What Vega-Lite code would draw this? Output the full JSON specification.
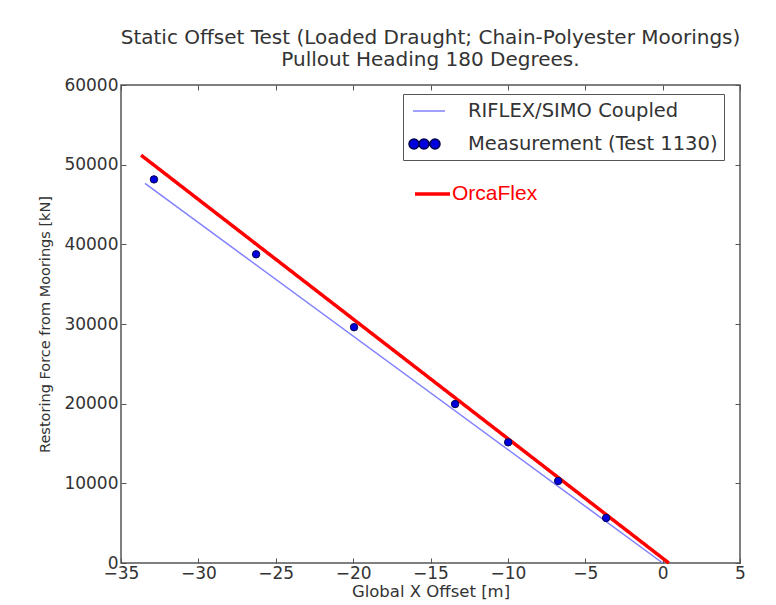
{
  "$schema": "https://vega.github.io/schema/vega-lite/v6.json",
  "width": 619,
  "height": 478,
  "autosize": {"type": "none"},
  "padding": {"left": 121, "top": 85, "right": 36, "bottom": 42},
  "background": "white",
  "title": {
    "text": ["Static Offset Test (Loaded Draught; Chain-Polyester Moorings)", "Pullout Heading 180 Degrees."],
    "anchor": "middle",
    "font": "DejaVu Sans",
    "fontSize": 20,
    "fontWeight": "normal",
    "color": "#333333",
    "lineHeight": 22,
    "offset": 6
  },
  "config": {
    "view": {"stroke": "#555555", "strokeWidth": 1.5},
    "axis": {
      "grid": false,
      "domain": false,
      "tickSize": -5,
      "tickColor": "#555555",
      "tickWidth": 1,
      "labelFont": "DejaVu Sans",
      "labelFontSize": 17,
      "labelColor": "#333333",
      "titleFont": "DejaVu Sans",
      "titleFontWeight": "normal",
      "titleColor": "#333333"
    }
  },
  "layer": [
    {
      "data": {"values": [
        {"offset": -33.45, "force": 47640},
        {"offset": 0.0, "force": 0}
      ]},
      "mark": {"type": "line", "color": "#8080ff", "strokeWidth": 1.5},
      "encoding": {
        "x": {"field": "offset", "type": "quantitative",
          "scale": {"domain": [-35, 5], "nice": false, "zero": false},
          "axis": {"title": "Global X Offset [m]", "values": [-35, -30, -25, -20, -15, -10, -5, 0, 5], "labelPadding": 7, "titlePadding": 2, "titleFontSize": 16.5, "labelFlush": false}},
        "y": {"field": "force", "type": "quantitative",
          "scale": {"domain": [0, 60000], "nice": false},
          "axis": {"title": "Restoring Force from Moorings [kN]", "values": [0, 10000, 20000, 30000, 40000, 50000, 60000], "format": "d", "labelPadding": 8, "titlePadding": 11, "titleFontSize": 14.5, "labelFlush": false}}
      }
    },
    {
      "data": {"values": [
        {"offset": -33.7, "force": 51190, "model": "OrcaFlex"},
        {"offset": 0.4, "force": 0, "model": "OrcaFlex"}
      ]},
      "mark": {"type": "line", "color": "#ff0000", "strokeWidth": 3.5},
      "encoding": {
        "x": {"field": "offset", "type": "quantitative",
          "axis": {"title": null, "labels": false, "values": [-35, -30, -25, -20, -15, -10, -5, 0, 5]}},
        "y": {"field": "force", "type": "quantitative",
          "axis": {"title": null, "labels": false, "values": [0, 10000, 20000, 30000, 40000, 50000, 60000]}},
        "strokeDash": {"field": "model", "type": "nominal",
          "scale": {"domain": ["OrcaFlex"], "range": [[1, 0]]},
          "legend": {
            "orient": "none", "legendX": 292, "legendY": 89.5, "title": null,
            "padding": 0, "symbolType": "M-1,0H1", "symbolSize": 1225,
            "symbolStrokeColor": "#ff0000", "symbolStrokeWidth": 3.5, "labelOffset": 0,
            "labelFont": "Liberation Sans", "labelFontSize": 21, "labelColor": "#ff0000"
          }}
      }
    },
    {
      "data": {"values": [
        {"offset": -32.87, "force": 48150},
        {"offset": -26.27, "force": 38750},
        {"offset": -19.94, "force": 29600},
        {"offset": -13.41, "force": 19950},
        {"offset": -9.98, "force": 15150},
        {"offset": -6.75, "force": 10300},
        {"offset": -3.65, "force": 5650}
      ]},
      "mark": {"type": "point", "filled": true, "size": 55, "opacity": 1, "fill": "#0000dd", "stroke": "#000050", "strokeWidth": 1},
      "encoding": {
        "x": {"field": "offset", "type": "quantitative", "axis": null},
        "y": {"field": "force", "type": "quantitative", "axis": null}
      }
    },
    {
      "data": {"values": [
        {"series": "RIFLEX/SIMO Coupled"},
        {"series": "Measurement (Test 1130)"}
      ]},
      "mark": {"type": "point", "filled": true, "opacity": 1, "strokeWidth": 1.5},
      "encoding": {
        "x": {"field": "offset", "type": "quantitative", "axis": null},
        "y": {"field": "force", "type": "quantitative", "axis": null},
        "color": {"field": "series", "type": "nominal",
          "scale": {"domain": ["RIFLEX/SIMO Coupled", "Measurement (Test 1130)"], "range": ["#8080ff", "#0000dd"]},
          "legend": {
            "orient": "none", "legendX": 282, "legendY": 9, "title": null,
            "padding": 6, "strokeColor": "#555555", "fillColor": "white",
            "symbolSize": 400, "rowPadding": 12, "labelOffset": 37, "labelLimit": 400,
            "symbolStrokeWidth": 1.5,
            "labelFont": "DejaVu Sans", "labelFontSize": 19.5, "labelColor": "#333333"
          }},
        "shape": {"field": "series", "type": "nominal",
          "scale": {"domain": ["RIFLEX/SIMO Coupled", "Measurement (Test 1130)"],
            "range": ["M-0.7,0H2.5", "M-1.1,0a0.5,0.5 0 1,0 1,0a0.5,0.5 0 1,0 -1,0M-0.1,0a0.5,0.5 0 1,0 1,0a0.5,0.5 0 1,0 -1,0M1,0a0.5,0.5 0 1,0 1,0a0.5,0.5 0 1,0 -1,0"]}},
        "stroke": {"field": "series", "type": "nominal",
          "scale": {"domain": ["RIFLEX/SIMO Coupled", "Measurement (Test 1130)"], "range": ["#8080ff", "#000050"]}}
      }
    }
  ],
  "resolve": {"axis": {"x": "independent", "y": "independent"}}
}
